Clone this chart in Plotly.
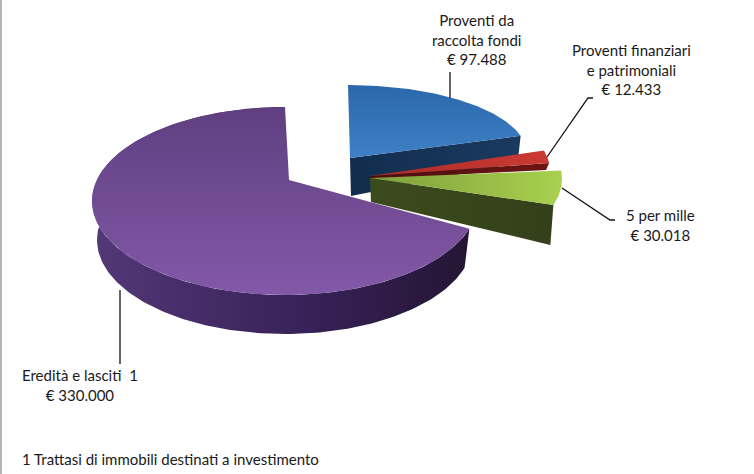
import numpy as np
import plotly.graph_objects as go

# ---- data ----
categories = ["Proventi da raccolta fondi", "Proventi finanziari e patrimoniali", "5 per mille", "Eredità e lasciti"]
values = [97488, 12433, 30018, 330000]
label_texts = ["Proventi da<br>raccolta fondi<br>€ 97.488",
               "Proventi finanziari<br>e patrimoniali<br>€ 12.433",
               "5 per mille<br>€ 30.018",
               "Eredità e lasciti  1<br>€ 330.000"]
footnote = "1 Trattasi di immobili destinati a investimento"

# ---- styles / projection of the 3D pie ----
FONT = "Lato"
W, H = 754, 474
total = sum(values)
sweeps = [v / total * 360 for v in values]
starts = list(np.cumsum([0] + sweeps[:-1]))

geom = [
    dict(c=(348, 154), r=(179, 69), apex=(350, 158), d_apex=38, d_end=27, dr=0,
         top=["#3f80c6", "#2a68aa"], side=["#122d4e", "#1a3a60"], gt="vertical", sg="horizontal"),
    dict(c=(370, 171), r=(180, 80), apex=(370, 176), d_apex=3, d_end=7, dr=0,
         top=["#a92b28", "#cc3a33"], side=["#4c0d0d", "#6e1515"], gt="horizontal", sg="horizontal"),
    dict(c=(369, 179), r=(193, 88), apex=(370, 178), d_apex=24, d_end=40, dr=0,
         top=["#7f9f3a", "#a9d04f"], side=["#3c4b1c", "#33401a"], gt="horizontal", sg="horizontal"),
]
pie_c, pie_r, pie_apex, pie_depth = (285, 201), (193, 94), (289, 180), 39

fig = go.Figure()


def arc(c, r, a0, a1, n=80):
    t = np.radians(np.linspace(a0, a1, n))
    return c[0] + r[0] * np.sin(t), c[1] - r[1] * np.cos(t)


def poly(x, y, colors, kind):
    fig.add_trace(go.Scatter(
        x=np.append(x, x[0]), y=np.append(y, y[0]), mode="lines", fill="toself",
        line=dict(width=0, color=colors[0]), hoverinfo="skip", showlegend=False,
        fillgradient=dict(type=kind, colorscale=[[0, colors[0]], [1, colors[1]]]),
    ))


# exploded slices, back to front
for i, g in enumerate(geom):
    a0, a1 = starts[i], starts[i] + sweeps[i]
    ax, ay = arc(g["c"], g["r"], a0, a1)
    end = (ax[-1], ay[-1])
    # cut face + outer rim
    sx = np.array([g["apex"][0], end[0], end[0] - 3, g["apex"][0] + 1])
    sy = np.array([g["apex"][1], end[1], end[1] + g["d_end"], g["apex"][1] + g["d_apex"]])
    poly(sx, sy, g["side"], g["sg"])
    poly(np.concatenate([[g["apex"][0]], ax]), np.concatenate([[g["apex"][1]], ay]), g["top"], g["gt"])

# large slice: rim then top face
a0, a1 = starts[3], starts[3] + sweeps[3]
ax, ay = arc(pie_c, pie_r, a0, a1, 200)
bx, by = arc((pie_c[0], pie_c[1] + pie_depth), (pie_r[0] - 5, pie_r[1]), a0, a1, 200)
poly(np.concatenate([ax, bx[::-1]]), np.concatenate([ay, by[::-1]]),
     ["#251636", "#54387a"], "horizontal")
# rim gradient runs dark on the right, lighter on the left: order fixed through reversed colours
fig.data[-1].fillgradient.colorscale = [[0, "#533877"], [0.55, "#38225a"], [1, "#241534"]]
poly(np.concatenate([[pie_apex[0]], ax]), np.concatenate([[pie_apex[1]], ay]),
     ["#8259a8", "#5f3f80"], "vertical")

# leader lines
leaders = [
    ([450, 450], [72, 98]),
    ([593, 588, 547], [98, 98, 157]),
    ([562, 610, 615], [188, 220, 220]),
    ([120, 120], [290, 364]),
]
for lx, ly in leaders:
    fig.add_trace(go.Scatter(x=lx, y=ly, mode="lines", line=dict(color="#111111", width=1.3),
                             hoverinfo="skip", showlegend=False))

# labels
label_pos = [(476, 39), (631, 69), (660, 225), (80, 385)]
for txt, (x, y) in zip(label_texts, label_pos):
    fig.add_annotation(x=x, y=y, text=txt, showarrow=False, align="center",
                       font=dict(family=FONT, size=15, color="#1a1a1a"))
fig.add_annotation(x=20, y=459, text=footnote, showarrow=False, xanchor="left",
                   font=dict(family=FONT, size=15, color="#1a1a1a"))

fig.update_layout(
    width=W, height=H, margin=dict(l=0, r=0, t=0, b=0),
    paper_bgcolor="white", plot_bgcolor="white", showlegend=False,
    xaxis=dict(range=[0, W], visible=False, fixedrange=True),
    yaxis=dict(range=[H, 0], visible=False, fixedrange=True),
    shapes=[dict(type="rect", xref="paper", yref="paper", x0=0, x1=2 / W, y0=0, y1=1,
                 fillcolor="#b4b4b4", line=dict(width=0))],
)
fig.write_html("out.html", config={"displayModeBar": False},
               post_script="document.body.style.margin='0';")
